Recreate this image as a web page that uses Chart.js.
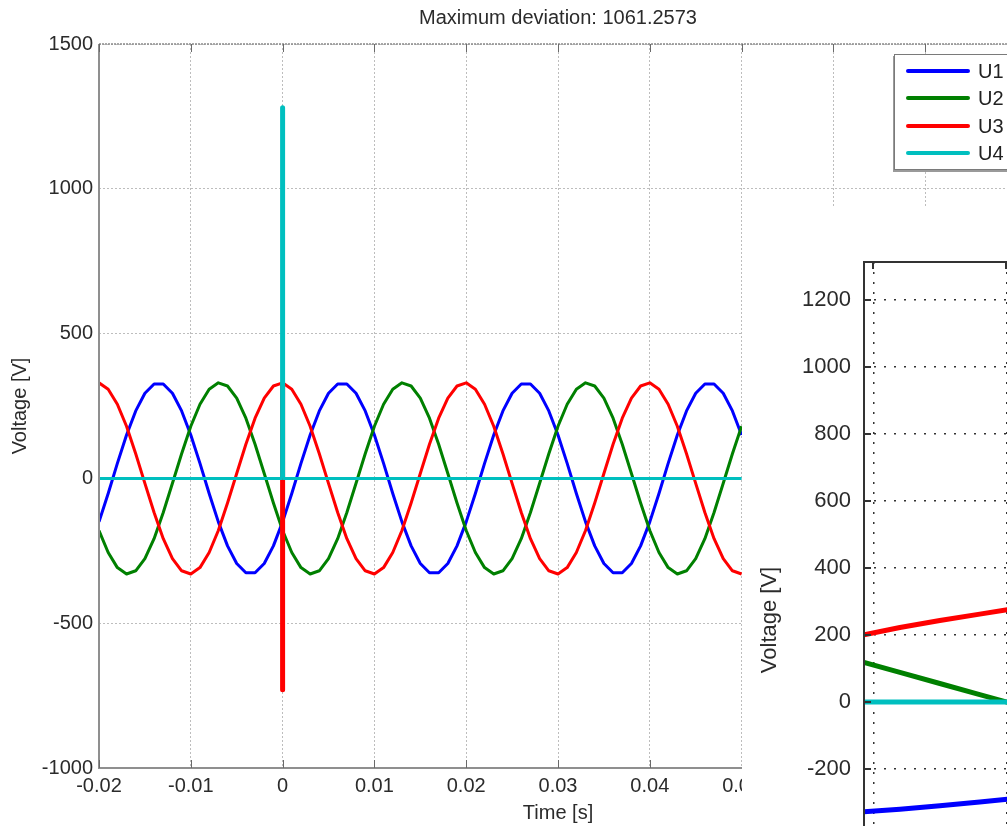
<!DOCTYPE html>
<html>
<head>
<meta charset="utf-8">
<title>Maximum deviation</title>
<script src="https://cdn.jsdelivr.net/npm/chart.js@4.4.0/dist/chart.umd.min.js"></script>
<style>
  html, body { margin: 0; padding: 0; background: #fff; overflow: hidden; width: 1007px; height: 826px; }
  #main { position: absolute; left: 0; top: 0; }
  #legend { position: absolute; left: 894px; top: 54px; width: 130px; height: 114px; background: #fff;
            border: 1px solid #7a7a7a; box-shadow: -1px 2px 0 #9a9a9a;
            font: 20px 'Liberation Sans', Arial, sans-serif; color: #222; }
  .item { position: absolute; left: 11px; height: 24px; width: 110px; }
  .item i { position: absolute; left: 0; top: 10px; width: 64px; height: 4px; border-radius: 2px; }
  .item span { position: absolute; left: 72px; top: 0; line-height: 24px; }
  #inset-wrap { position: absolute; left: 742px; top: 207px; width: 265px; height: 619px; background: #fff; overflow: hidden; }
  #inset { position: absolute; left: 0; top: 0; }
</style>
</head>
<body>
<canvas id="main" width="1120" height="826"></canvas>
<div id="legend"></div>
<div id="inset-wrap"><canvas id="inset" width="420" height="800"></canvas></div>
<script>
/* Series names and colours */
let seriesNames = ['U1', 'U2', 'U3', 'U4']
let seriesColors = ['#0000ff', '#008000', '#ff0000', '#00bfbf']

/* Sample times [s], 1 ms steps; t = 0 appears three times for the switching spike */
let time = [
  -0.020, -0.019, -0.018, -0.017, -0.016, -0.015, -0.014, -0.013, -0.012, -0.011,
  -0.010, -0.009, -0.008, -0.007, -0.006, -0.005, -0.004, -0.003, -0.002, -0.001,
  0, 0, 0,
  0.001, 0.002, 0.003, 0.004, 0.005, 0.006, 0.007, 0.008, 0.009, 0.010,
  0.011, 0.012, 0.013, 0.014, 0.015, 0.016, 0.017, 0.018, 0.019, 0.020,
  0.021, 0.022, 0.023, 0.024, 0.025, 0.026, 0.027, 0.028, 0.029, 0.030,
  0.031, 0.032, 0.033, 0.034, 0.035, 0.036, 0.037, 0.038, 0.039, 0.040,
  0.041, 0.042, 0.043, 0.044, 0.045, 0.046, 0.047, 0.048, 0.049, 0.050
]

/* Phase voltages [V] */
let u1 = [
  -150, -52, 52, 150, 233, 294, 326, 326, 294, 233,
  150, 52, -52, -150, -233, -294, -326, -326, -294, -233,
  -150, -150, -150,
  -52, 52, 150, 233, 294, 326, 326, 294, 233, 150,
  52, -52, -150, -233, -294, -326, -326, -294, -233, -150,
  -52, 52, 150, 233, 294, 326, 326, 294, 233, 150,
  52, -52, -150, -233, -294, -326, -326, -294, -233, -150,
  -52, 52, 150, 233, 294, 326, 326, 294, 233, 150
]
let u2 = [
  -180, -256, -308, -330, -319, -277, -208, -118, -17, 85,
  180, 256, 308, 330, 319, 277, 208, 118, 17, -85,
  -180, -180, -180,
  -256, -308, -330, -319, -277, -208, -118, -17, 85, 180,
  256, 308, 330, 319, 277, 208, 118, 17, -85, -180,
  -256, -308, -330, -319, -277, -208, -118, -17, 85, 180,
  256, 308, 330, 319, 277, 208, 118, 17, -85, -180,
  -256, -308, -330, -319, -277, -208, -118, -17, 85, 180
]
let u3 = [
  330, 308, 256, 180, 85, -17, -118, -208, -277, -319,
  -330, -308, -256, -180, -85, 17, 118, 208, 277, 319,
  330, -730, 330,
  308, 256, 180, 85, -17, -118, -208, -277, -319, -330,
  -308, -256, -180, -85, 17, 118, 208, 277, 319, 330,
  308, 256, 180, 85, -17, -118, -208, -277, -319, -330,
  -308, -256, -180, -85, 17, 118, 208, 277, 319, 330,
  308, 256, 180, 85, -17, -118, -208, -277, -319, -330
]
let u4 = [
  0, 0, 0, 0, 0, 0, 0, 0, 0, 0,
  0, 0, 0, 0, 0, 0, 0, 0, 0, 0,
  0, 1280, 0,
  0, 0, 0, 0, 0, 0, 0, 0, 0, 0,
  0, 0, 0, 0, 0, 0, 0, 0, 0, 0,
  0, 0, 0, 0, 0, 0, 0, 0, 0, 0,
  0, 0, 0, 0, 0, 0, 0, 0, 0, 0,
  0, 0, 0, 0, 0, 0, 0, 0, 0, 0
]

/* Zoomed view just before the switching instant */
let zoomTime = [-0.00307, -0.0028, -0.0025, -0.0022, -0.0019, -0.0016]
let zoomU1 = [-328, -320, -310, -299, -287, -275]
let zoomU2 = [118, 88, 55, 22, -11, -44]
let zoomU3 = [200, 222, 243, 262, 281, 298]
let zoomU4 = [0, 0, 0, 0, 0, 0]

/* Axis ticks */
let timeTicks = { min: -0.02, max: 0.08, step: 0.01 }
let voltTicks = { min: -1000, max: 1500, step: 500 }
let zoomVoltStep = 200

const FONT = "'Liberation Sans', Arial, Helvetica, sans-serif"
const TEXT = '#2b2b2b'

function makeDatasets(xs, ys, width, spikeWidth) {
    return seriesNames.map((name, i) => ({
        label: name,
        data: xs.map((t, k) => ({ x: t, y: ys[i][k] })),
        borderColor: seriesColors[i],
        backgroundColor: seriesColors[i],
        borderWidth: width,
        pointRadius: 0,
        tension: 0,
        borderJoinStyle: 'round',
        // vertical jumps (same time stamp twice) are drawn a bit heavier
        segment: {
            borderWidth: c => (c.p0.parsed.x === c.p1.parsed.x ? spikeWidth : undefined)
        },
        order: seriesNames.length - i   // U4 ends up on top
    }))
}

// grey L-shaped frame with dotted top edge and inward ticks
const mainFrame = {
    id: 'mainFrame',
    afterDraw(chart) {
        const { ctx, chartArea: a, scales: { x } } = chart
        ctx.save()
        ctx.strokeStyle = '#8f8f8f'
        ctx.lineWidth = 2
        ctx.beginPath()
        ctx.moveTo(a.left, a.top)
        ctx.lineTo(a.left, a.bottom)
        ctx.lineTo(a.right, a.bottom)
        ctx.stroke()
        ctx.setLineDash([2, 1])
        ctx.strokeStyle = '#8a8a8a'
        ctx.lineWidth = 1.5
        ctx.beginPath()
        ctx.moveTo(a.left, a.top)
        ctx.lineTo(a.right, a.top)
        ctx.stroke()
        ctx.setLineDash([])
        ctx.strokeStyle = '#6a6a6a'
        ctx.lineWidth = 1
        ctx.beginPath()
        x.ticks.forEach(t => {
            const px = Math.round(x.getPixelForValue(t.value)) + 0.5
            ctx.moveTo(px, a.bottom)
            ctx.lineTo(px, a.bottom - 8)
            ctx.moveTo(px, a.top)
            ctx.lineTo(px, a.top + 8)
        })
        ctx.stroke()
        ctx.restore()
    }
}

const insetFrame = {
    id: 'insetFrame',
    afterDraw(chart) {
        const { ctx, chartArea: a, scales: { x, y } } = chart
        ctx.save()
        ctx.strokeStyle = '#333'
        ctx.lineWidth = 2
        ctx.beginPath()
        ctx.moveTo(a.left, a.bottom)
        ctx.lineTo(a.left, a.top)
        ctx.lineTo(a.right, a.top)
        ctx.stroke()
        ctx.beginPath()
        y.ticks.forEach(t => {
            const py = Math.round(y.getPixelForValue(t.value))
            ctx.moveTo(a.left, py)
            ctx.lineTo(a.left + 7, py)
        })
        x.ticks.forEach(t => {
            const px = Math.round(x.getPixelForValue(t.value))
            ctx.moveTo(px, a.top)
            ctx.lineTo(px, a.top + 7)
        })
        ctx.stroke()
        ctx.restore()
    }
}

let mainChart = new Chart(document.getElementById('main'), {
    type: 'line',
    data: { datasets: makeDatasets(time, [u1, u2, u3, u4], 3, 5) },
    options: {
        responsive: false,
        animation: false,
        devicePixelRatio: 1,
        layout: { padding: { left: 0, right: 103, top: 0, bottom: 0 } },
        plugins: {
            legend: { display: false },
            tooltip: { enabled: false },
            title: {
                display: true,
                fullSize: false,
                text: 'Maximum deviation: 1061.2573',
                color: TEXT,
                font: { family: FONT, size: 20, weight: 'normal' },
                padding: { top: 6, bottom: 14 }
            }
        },
        scales: {
            x: {
                type: 'linear',
                min: timeTicks.min,
                max: timeTicks.max,
                afterFit: s => { s.height = 58 },
                ticks: {
                    stepSize: timeTicks.step,
                    autoSkip: false,
                    maxRotation: 0,
                    padding: 6,
                    color: TEXT,
                    font: { family: FONT, size: 20 },
                    callback: v => String(+v.toFixed(2))
                },
                grid: { color: 'rgba(0,0,0,0.26)', drawTicks: false },
                border: { display: false, dash: [2, 2] },
                title: {
                    display: true,
                    text: 'Time [s]',
                    color: TEXT,
                    font: { family: FONT, size: 20 },
                    padding: { top: 0, bottom: 1 }
                }
            },
            y: {
                min: voltTicks.min,
                max: voltTicks.max,
                afterFit: s => { s.width = 99 },
                ticks: {
                    stepSize: voltTicks.step,
                    padding: 6,
                    color: TEXT,
                    font: { family: FONT, size: 20 },
                    callback: v => String(v)
                },
                grid: { color: 'rgba(0,0,0,0.26)', drawTicks: false },
                border: { display: false, dash: [2, 2] },
                title: {
                    display: true,
                    text: 'Voltage [V]',
                    color: TEXT,
                    font: { family: FONT, size: 20 },
                    padding: { top: 8, bottom: 0 }
                }
            }
        }
    },
    plugins: [mainFrame]
})

let insetChart = new Chart(document.getElementById('inset'), {
    type: 'line',
    data: { datasets: makeDatasets(zoomTime, [zoomU1, zoomU2, zoomU3, zoomU4], 5, 5) },
    options: {
        responsive: false,
        animation: false,
        devicePixelRatio: 1,
        layout: { padding: { left: 0, right: 0, top: 55, bottom: 0 } },
        plugins: {
            legend: { display: false },
            tooltip: { enabled: false },
            title: { display: false }
        },
        scales: {
            x: {
                type: 'linear',
                min: -0.00307,
                max: -0.00083,
                afterFit: s => { s.height = 29 },
                ticks: { display: false, stepSize: 0.001, includeBounds: false },
                grid: { color: '#333', lineWidth: 1.5, drawTicks: false },
                border: { display: false, dash: [2, 8] }
            },
            y: {
                min: -824,
                max: 1313,
                afterFit: s => { s.width = 122 },
                ticks: {
                    stepSize: zoomVoltStep,
                    includeBounds: false,
                    padding: 13,
                    color: TEXT,
                    font: { family: FONT, size: 22 },
                    callback: v => String(v)
                },
                grid: { color: '#333', lineWidth: 1.5, drawTicks: false },
                border: { display: false, dash: [2, 8] },
                title: {
                    display: true,
                    text: 'Voltage [V]',
                    color: TEXT,
                    font: { family: FONT, size: 22 },
                    padding: { top: 14.8, bottom: 0 }
                }
            }
        }
    },
    plugins: [insetFrame]
})

// legend box in the upper right corner of the main axes
let legendBox = document.getElementById('legend')
let legendTops = [4, 31, 59, 86]
seriesNames.forEach((name, i) => {
    let item = document.createElement('div')
    item.className = 'item'
    item.style.top = legendTops[i] + 'px'
    let swatch = document.createElement('i')
    swatch.style.background = seriesColors[i]
    let label = document.createElement('span')
    label.textContent = name
    item.appendChild(swatch)
    item.appendChild(label)
    legendBox.appendChild(item)
})
</script>
</body>
</html>
